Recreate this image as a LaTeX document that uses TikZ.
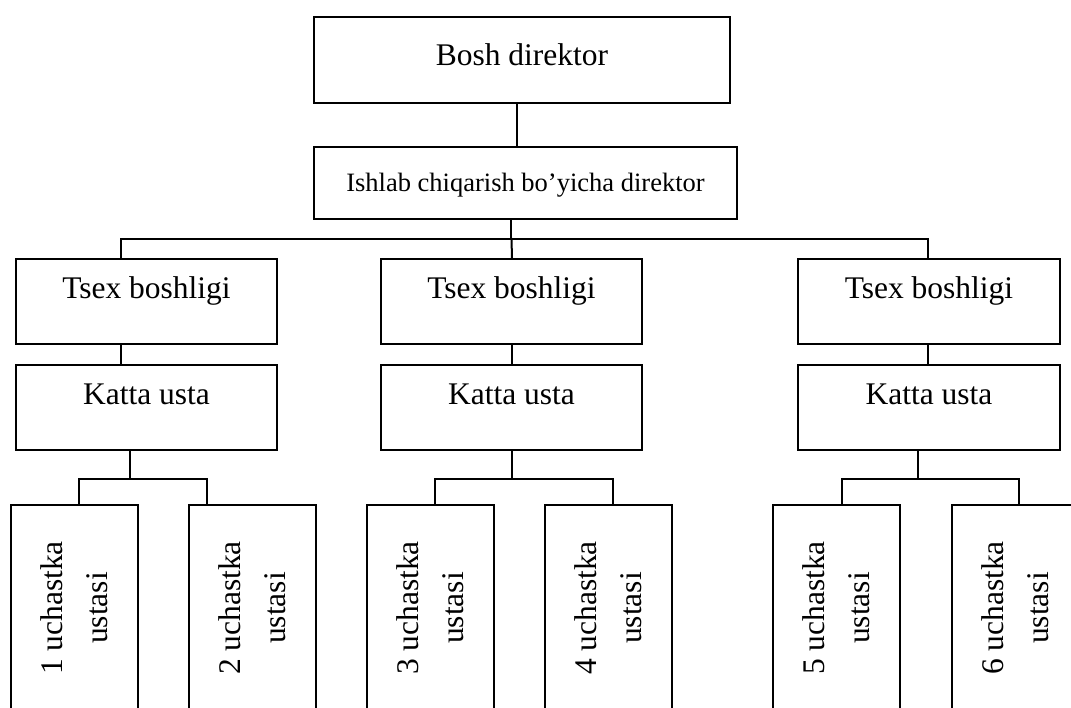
\documentclass[tikz,border=0pt]{standalone}
\usepackage{fontspec}
\setmainfont{Liberation Serif}
\begin{document}
\begin{tikzpicture}[x=1pt,y=-1pt,
  box/.style={draw, rectangle, line width=2pt, inner sep=0pt, anchor=north,
    font=\fontsize{31.5}{38}\selectfont},
  bigbox/.style={box, minimum width=261pt, text height=40pt, text depth=45pt},
  vbox/.style={draw, rectangle, line width=2pt, inner sep=0pt, rotate=90,
    minimum width=206pt, minimum height=127pt, align=center,
    font=\fontsize{31.5}{45}\selectfont},
  link/.style={line width=2pt}]
\useasboundingbox (0,0) rectangle (1071,708);
\clip (0,0) rectangle (1071,708);

% top levels
\node[box, minimum width=416pt, text height=49pt, text depth=37pt] (bosh) at (522,16) {Bosh direktor};
\node[box, minimum width=423pt, text height=45pt, text depth=27pt,
      font=\fontsize{26.5}{32}\selectfont] (ishlab) at (525.5,146) {Ishlab chiqarish bo’yicha direktor};

% shop heads
\node[bigbox] (t1) at (146.5,258) {Tsex boshligi};
\node[bigbox] (t2) at (511.5,258) {Tsex boshligi};
\node[bigbox, minimum width=262pt] (t3) at (929,258) {Tsex boshligi};

% senior masters
\node[bigbox] (k1) at (146.5,364) {Katta usta};
\node[bigbox] (k2) at (511.5,364) {Katta usta};
\node[bigbox, minimum width=262pt] (k3) at (929,364) {Katta usta};

% section masters
\node[vbox] (b1) at (74.5,608) {1 uchastka\\ustasi};
\node[vbox] (b2) at (252.5,608) {2 uchastka\\ustasi};
\node[vbox] (b3) at (430,608) {3 uchastka\\ustasi};
\node[vbox] (b4) at (608,608) {4 uchastka\\ustasi};
\node[vbox] (b5) at (836.5,608) {5 uchastka\\ustasi};
\node[vbox] (b6) at (1015,608) {6 uchastka\\ustasi};

% connectors
\draw[link] ([xshift=-5pt]bosh.south) -- ([xshift=-5pt]bosh.south |- ishlab.north);
\draw[link] ([xshift=-14.5pt]ishlab.south) -- ++(0,19) coordinate (bus);
\draw[link] ([xshift=-25.5pt]t1.north) |- (bus) -| ([xshift=-1pt]t3.north);
\draw[link] (bus) -- (bus -| t2.north) -- ([xshift=0.5pt]t2.north);

\draw[link] ([xshift=-25.5pt]t1.south) -- ([xshift=-25.5pt]k1.north);
\draw[link] ([xshift=0.5pt]t2.south) -- ([xshift=0.5pt]k2.north);
\draw[link] ([xshift=-1pt]t3.south) -- ([xshift=-1pt]k3.north);

\draw[link] ([xshift=-16.5pt]k1.south) -- ++(0,28) coordinate (j1);
\draw[link] ([xshift=4.5pt]b1.east |- 0,505) |- (j1) -| ([xshift=-45.5pt]b2.east |- 0,505);
\draw[link] ([xshift=0.5pt]k2.south) -- ++(0,28) coordinate (j2);
\draw[link] ([xshift=5pt]b3.east |- 0,505) |- (j2) -| ([xshift=5pt]b4.east |- 0,505);
\draw[link] ([xshift=-11pt]k3.south) -- ++(0,28) coordinate (j3);
\draw[link] ([xshift=5.5pt]b5.east |- 0,505) |- (j3) -| ([xshift=4pt]b6.east |- 0,505);
\end{tikzpicture}
\end{document}
